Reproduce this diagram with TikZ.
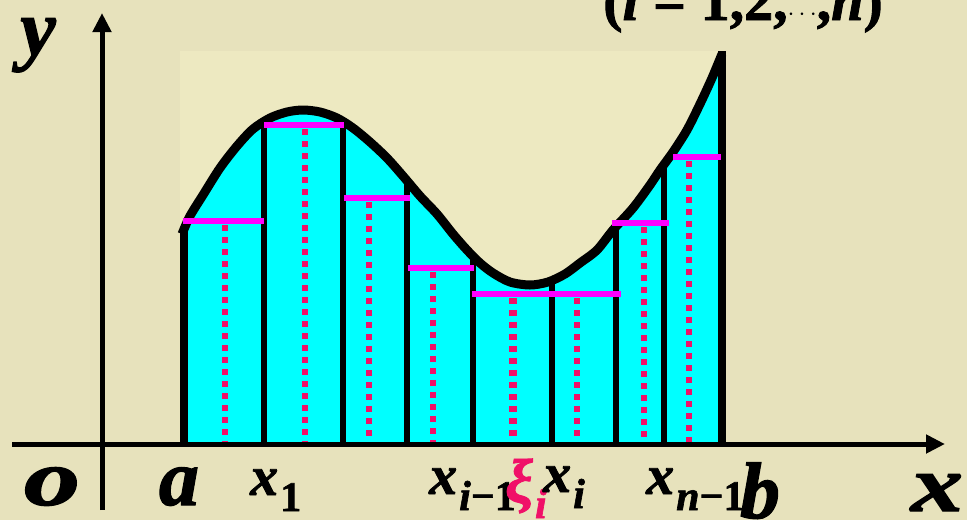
\documentclass[tikz,border=0pt]{standalone}
\usepackage{fontspec}
\setmainfont{Liberation Serif}
\newfontfamily\heavy{Liberation Serif}[FakeBold=1.5]
\usetikzlibrary{arrows.meta}
\definecolor{parch}{RGB}{231,226,188}
\definecolor{pale}{RGB}{237,233,193}
\definecolor{crim}{RGB}{240,16,104}
\definecolor{mag}{RGB}{255,0,255}
\definecolor{cyanf}{RGB}{0,255,255}
\tikzset{
 axisline/.style={line width=5pt,-{Triangle[length=19pt,width=18pt]}},
 partline/.style={line width=6pt},
 hbar/.style={line width=6pt, mag},
 dotline/.style={line width=6pt, crim, dash pattern=on 6pt off 6pt},
 biglab/.style={inner sep=0pt, anchor=base, font=\fontsize{80}{80}\selectfont\heavy\bfseries\itshape},
 sublab/.style={inner sep=0pt, anchor=base west, font=\fontsize{56}{56}\selectfont\heavy\bfseries\itshape},
}
\newcommand{\sbs}[1]{\kern2pt\raisebox{-16pt}{\fontsize{42}{42}\selectfont #1}}
\begin{document}
\begin{tikzpicture}[x=1pt,y=-1pt]
\useasboundingbox (0,0) rectangle (967,520);
\fill[parch] (0,0) rectangle (967,520);
\fill[pale] (180,51) rectangle (724,444);
\begin{scope}
\clip (184,444) -- plot[smooth] coordinates {(182,234) (190,216) (203,195) (220,168) (237,146) (253,129) (270,118) (287,112) (303,110) (320,112) (337,118) (353,128) (370,142) (387,158) (403,176) (420,196) (437,214) (453,234) (467,250) (480,263) (493,273) (510,282) (530,285) (548,282) (565,274) (580,263) (597,250) (613,230) (633,208) (650,185) (660,170) (673,152) (687,130) (700,104) (712,78) (722,54)} -- (722,444) -- cycle;
\fill[cyanf] (150,40) rectangle (740,450);
\foreach \xx in {264,343,407,473,552,616,664} \draw[partline] (\xx,40) -- (\xx,450);
\end{scope}
\draw[line width=9pt, line join=round] plot[smooth] coordinates {(182,234) (190,216) (203,195) (220,168) (237,146) (253,129) (270,118) (287,112) (303,110) (320,112) (337,118) (353,128) (370,142) (387,158) (403,176) (420,196) (437,214) (453,234) (467,250) (480,263) (493,273) (510,282) (530,285) (548,282) (565,274) (580,263) (597,250) (613,230) (633,208) (650,185) (660,170) (673,152) (687,130) (700,104) (712,78) (722,54)};
\draw[line width=8pt] (184,444) -- (184,230);
\draw[line width=8pt] (722,444) -- (722,51);
% sample bars
\draw[hbar] (183,221) -- (264,221);
\draw[hbar] (264,125) -- (344,125);
\draw[hbar] (344,198) -- (410,198);
\draw[hbar] (408,268) -- (474,268);
\draw[hbar] (472,294) -- (621,294);
\draw[hbar] (612,223) -- (669,223);
\draw[hbar] (673,157) -- (721,157);
% dotted verticals
\draw[dotline] (225,225) -- (225,444);
\draw[dotline] (305,129) -- (305,444);
\draw[dotline] (369,202) -- (369,444);
\draw[dotline] (433,272) -- (433,444);
\draw[dotline, line width=8pt] (513,298) -- (513,444);
\draw[dotline] (577,298) -- (577,444);
\draw[dotline] (644,227) -- (644,444);
\draw[dotline] (689,161) -- (689,444);
% axes
\coordinate (xs) at (12,444);
\coordinate (xe) at (945,444);
\coordinate (ys) at (102,510);
\coordinate (ye) at (102,13);
\draw[axisline] (xs) -- (xe);
\draw[axisline] (ys) -- (ye);
% labels
\node[biglab] (ly) at (38,55) {y};
\node[biglab] (lo) at (52,505) {\scalebox{1.4}[1]{o}};
\node[biglab] (la) at (179,505) {a};
\node[biglab] (lb) at (760,518) {b};
\node[biglab] (lx) at (937,511) {\scalebox{1.3}[1]{x}};
\node[sublab] (lx1) at (250,495) {x\sbs{\upshape 1}};
\node[sublab] (lxim) at (429,494) {x\sbs{i\upshape −1}};
\node[sublab, text=crim, font=\fontsize{62}{62}\selectfont\heavy\bfseries\itshape] (lxi) at (505,502) {ξ\sbs{i}};
\node[sublab] (lxii) at (543,492) {x\sbs{i}};
\node[sublab] (lxn) at (646,494) {x\sbs{n\upshape −1}};
\node[inner sep=0pt, anchor=base west, font=\fontsize{58}{58}\selectfont\heavy\bfseries] (ttl) at (603,20) {(\textit{i} = 1,2,$\cdots$,\textit{n})};
\end{tikzpicture}
\end{document}
